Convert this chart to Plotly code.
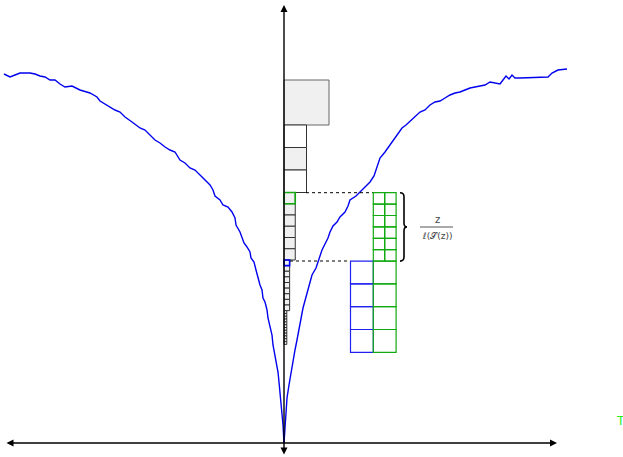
import plotly.graph_objects as go

# ---- data (x = horizontal offset from vertical axis, y = height above horizontal axis)
left_x = [-280, -276, -274, -269, -264, -254, -249, -244, -239, -234, -229, -224, -219, -212, -204,
          -194, -187, -184, -176, -169, -164, -159, -152, -144, -139, -134, -129, -124, -119, -114,
          -109, -104, -99, -94, -89, -84, -79, -74, -71, -69, -64, -61, -56, -52, -49, -48, -44, -42,
          -40, -37, -34, -33, -30, -28, -26, -24, -22, -21, -19, -17, -16, -14, -12, -11, -9, -8, -6,
          -5, -4, -3, -2, -1, 0]
left_y = [369, 367, 366, 368, 370, 370, 369, 367, 366, 363, 363, 359, 356, 357, 353,
          350, 346, 342, 337, 333, 331, 326, 321, 315, 313, 308, 303, 300, 296, 293,
          291, 283, 280, 275, 273, 268, 263, 258, 253, 247, 243, 238, 236, 231, 225, 218, 211, 205,
          200, 196, 191, 185, 181, 173, 165, 158, 153, 145, 141, 133, 125, 117, 108, 98, 88, 81, 71,
          61, 51, 41, 31, 18, 0]

right_x = [0, 1, 2, 3, 5, 7, 9, 11, 13, 15, 17, 19, 22, 24, 26, 28, 32, 34, 36, 38, 41, 44, 46, 49,
           53, 56, 61, 64, 66, 72, 76, 81, 86, 90, 92, 94, 96, 101, 106, 109, 114, 118, 122, 126,
           131, 136, 141, 146, 151, 156, 161, 166, 171, 176, 181, 186, 191, 196, 201, 206, 211, 216,
           219, 222, 225, 228, 231, 236, 264, 268, 274, 283]
right_y = [0, 18, 33, 45, 58, 71, 81, 93, 103, 113, 125, 135, 146, 153, 161, 168, 175, 181, 187, 193,
           199, 205, 211, 217, 221, 226, 231, 237, 243, 247, 251, 256, 261, 267, 273, 278, 285, 291,
           298, 303, 310, 315, 318, 322, 326, 331, 333, 338, 341, 342, 345, 348, 350, 351, 353, 355,
           356, 357, 358, 361, 360, 359, 363, 367, 364, 368, 365, 365, 366, 370, 373, 374]

# tower of dyadic squares along the vertical axis
tower_sides = [45, 22.5, 11.25, 5.625, 2.8125]
tower_counts = [1, 3, 6, 9, 12]
tower_top = 363

# grids to the right
grid_small_side = 11.4
grid_small_rows = 6
grid_small_cols = 2
grid_big_side = 22.8
grid_big_rows = 4

fig = go.Figure()

fig.add_trace(go.Scatter(x=left_x, y=left_y, mode="lines",
                         line=dict(color="#0000ee", width=1.4), hoverinfo="skip"))
fig.add_trace(go.Scatter(x=right_x, y=right_y, mode="lines",
                         line=dict(color="#0000ee", width=1.4), hoverinfo="skip"))

shapes = []
# tower
y = tower_top
fills = {0: ["#f0f0f0"], 1: ["#ffffff", "#f0f0f0", "#ffffff"]}
for lvl, (s, n) in enumerate(zip(tower_sides, tower_counts)):
    for i in range(n):
        fill = fills[lvl][i] if lvl in fills else "#f0f0f0"
        lc = "#666666" if lvl == 0 else "#333333"
        shapes.append(dict(type="rect", xref="x", yref="y", x0=0, x1=s, y0=y - s, y1=y,
                           fillcolor=fill, line=dict(color=lc, width=1)))
        y -= s

# highlighted squares
y_green_top = tower_top - tower_sides[0] - 3 * tower_sides[1]
shapes.append(dict(type="rect", xref="x", yref="y", x0=0, x1=tower_sides[2],
                   y0=y_green_top - tower_sides[2], y1=y_green_top,
                   line=dict(color="#11aa11", width=1.6)))
y_blue_top = y_green_top - 6 * tower_sides[2]
shapes.append(dict(type="rect", xref="x", yref="y", x0=0, x1=tower_sides[3],
                   y0=y_blue_top - tower_sides[3], y1=y_blue_top,
                   line=dict(color="#0000ff", width=1.6)))

# dotted connectors
shapes.append(dict(type="line", xref="x", yref="y", x0=22, x1=90, y0=250.3, y1=250.3,
                   line=dict(color="#000000", width=1, dash="dot")))
shapes.append(dict(type="line", xref="x", yref="y", x0=6, x1=66, y0=182, y1=182,
                   line=dict(color="#000000", width=1, dash="dot")))

# green small grid
gx0 = 89.3
gtop = 250.3
for r in range(grid_small_rows):
    for c in range(grid_small_cols):
        shapes.append(dict(type="rect", xref="x", yref="y",
                           x0=gx0 + c * grid_small_side, x1=gx0 + (c + 1) * grid_small_side,
                           y0=gtop - (r + 1) * grid_small_side, y1=gtop - r * grid_small_side,
                           line=dict(color="#11aa11", width=1.2)))
btop = gtop - grid_small_rows * grid_small_side
for r in range(grid_big_rows):
    shapes.append(dict(type="rect", xref="x", yref="y",
                       x0=gx0 - grid_big_side, x1=gx0,
                       y0=btop - (r + 1) * grid_big_side, y1=btop - r * grid_big_side,
                       line=dict(color="#2222ee", width=1.2)))
    shapes.append(dict(type="rect", xref="x", yref="y",
                       x0=gx0, x1=gx0 + grid_big_side,
                       y0=btop - (r + 1) * grid_big_side, y1=btop - r * grid_big_side,
                       line=dict(color="#11aa11", width=1.2)))

# curly brace
bx = 116
ym = (gtop + btop) / 2
brace = (f"M {bx},{gtop} Q {bx+4},{gtop} {bx+4},{gtop-4} L {bx+4},{ym+4} "
         f"Q {bx+4},{ym} {bx+7},{ym} Q {bx+4},{ym} {bx+4},{ym-4} "
         f"L {bx+4},{btop+4} Q {bx+4},{btop} {bx},{btop}")
shapes.append(dict(type="path", xref="x", yref="y", path=brace,
                   line=dict(color="#000000", width=1.6)))

# fraction bar
shapes.append(dict(type="line", xref="x", yref="y", x0=136, x1=169, y0=216, y1=216,
                   line=dict(color="#555555", width=1)))

annotations = [
    dict(x=273, y=0, ax=-279, ay=0, xref="x", yref="y", axref="x", ayref="y",
         text="", showarrow=True, arrowhead=2, arrowside="end+start", arrowsize=1,
         arrowwidth=1.4, arrowcolor="#000000", standoff=0, startstandoff=0),
    dict(x=0, y=438, ax=0, ay=-13, xref="x", yref="y", axref="x", ayref="y",
         text="", showarrow=True, arrowhead=2, arrowside="end+start", arrowsize=1,
         arrowwidth=1.4, arrowcolor="#000000", standoff=0, startstandoff=0),
    dict(x=153, y=224, text="z", showarrow=False, xref="x", yref="y",
         font=dict(family="DejaVu Sans", size=10, color="#444444")),
    dict(x=153, y=207, text="ℓ(𝒮(z))", showarrow=False, xref="x", yref="y",
         font=dict(family="DejaVu Sans", size=9, color="#444444")),
    dict(x=330, y=22, text="T", showarrow=False, xref="x", yref="y", xanchor="left",
         font=dict(family="DejaVu Sans", size=12, color="#22ee22")),
]

fig.update_layout(
    width=623, height=457,
    margin=dict(l=0, r=0, t=0, b=0, autoexpand=False),
    paper_bgcolor="white", plot_bgcolor="white",
    showlegend=False,
    shapes=shapes, annotations=annotations,
    xaxis=dict(range=[-284, 339], visible=False, fixedrange=True),
    yaxis=dict(range=[-14, 443], visible=False, fixedrange=True),
)

fig.write_html("out.html", config={"displayModeBar": False},
               post_script="document.body.style.margin='0';document.body.style.overflow='hidden';")
